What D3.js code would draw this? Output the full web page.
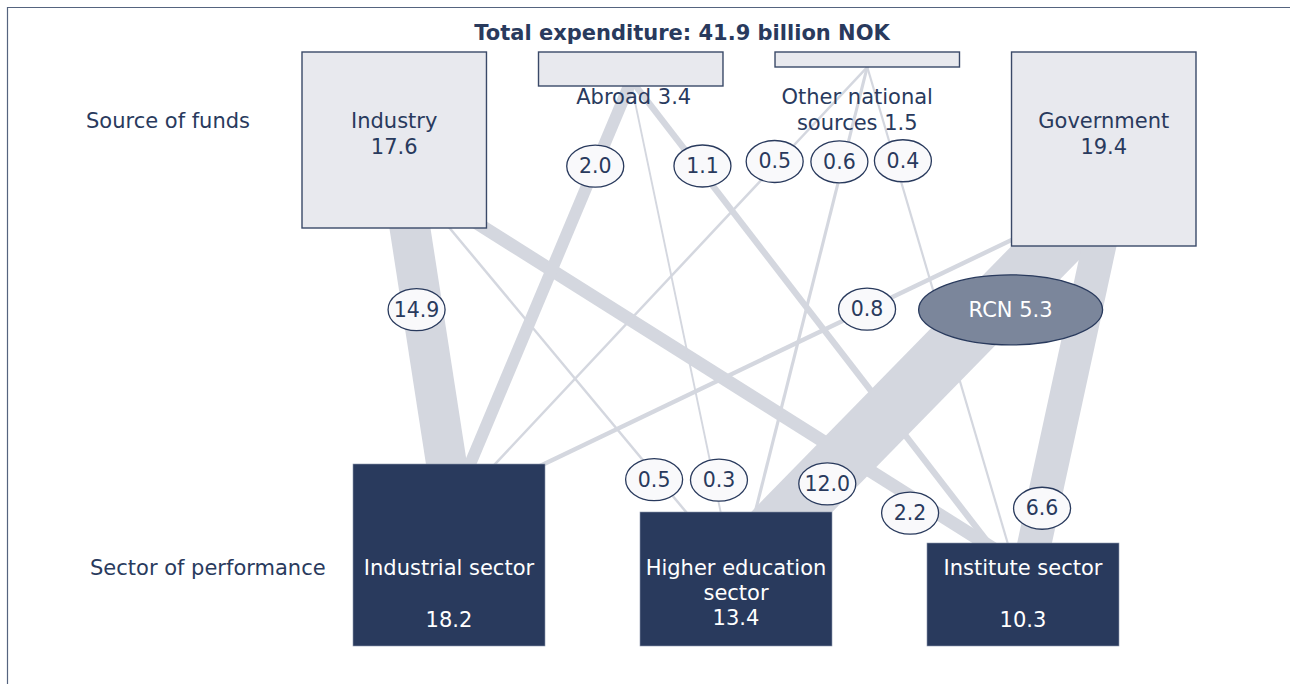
<!DOCTYPE html>
<html><head><meta charset="utf-8">
<script src="https://cdn.jsdelivr.net/npm/d3@7"></script>
<style>html,body{margin:0;padding:0;background:#fff;} svg{display:block;}</style>
</head><body><svg id="chart" width="1290" height="684"></svg>
<script>
// ---------------- data ----------------
const title = "Total expenditure: 41.9 billion NOK";
const rowLabels = ["Source of funds", "Sector of performance"];
const sources = ["Industry", "Abroad", "Other national sources", "Government"];
const sourceValues = [17.6, 3.4, 1.5, 19.4];
const targets = ["Industrial sector", "Higher education sector", "Institute sector"];
const targetValues = [18.2, 13.4, 10.3];
const flowSource = ["Industry", "Industry", "Industry", "Abroad", "Abroad", "Abroad",
  "Other national sources", "Other national sources", "Other national sources",
  "Government", "Government", "Government"];
const flowTarget = ["Industrial sector", "Higher education sector", "Institute sector",
  "Industrial sector", "Higher education sector", "Institute sector",
  "Industrial sector", "Higher education sector", "Institute sector",
  "Industrial sector", "Higher education sector", "Institute sector"];
const flowValues = [14.9, 0.5, 2.2, 2.0, 0.3, 1.1, 0.5, 0.6, 0.4, 0.8, 12.0, 6.6];
const rcnLabel = "RCN";
const rcnValue = 5.3;

// ---------------- layout / style ----------------
const NAVY = "#293a5d", FLOW = "#d4d7df", BOXFILL = "#e8e9ee";
const FONT = "DejaVu Sans, Verdana, sans-serif";
// anchor fractions across box widths, label position along the flow
const flowLayout = [
  {sf: 0.585, tf: 0.487, t: 0.346, dx: -6, dy: 0},
  {sf: 0.80, tf: 0.24, t: 0.886, dx: -5, dy: 0},
  {sf: 0.99, tf: 0.30, t: 0.851, dx: 0, dy: 17},
  {sf: 0.49, tf: 0.61, t: 0.212, dx: 0, dy: 0},
  {sf: 0.505, tf: 0.42, t: 0.925, dx: 5, dy: 0},
  {sf: 0.527, tf: 0.32, t: 0.175, dx: 5, dy: 0},
  {sf: 0.5, tf: 0.74, t: 0.238, dx: -4, dy: 0},
  {sf: 0.5, tf: 0.60, t: 0.213, dx: -4, dy: 0},
  {sf: 0.5, tf: 0.42, t: 0.197, dx: 8, dy: 0},
  {sf: 0.0, tf: 0.995, t: 0.309, dx: 0, dy: 0, sdy: -6},
  {sf: 0.22, tf: 0.79, t: 0.894, dx: 8, dy: 0},
  {sf: 0.475, tf: 0.56, t: 0.883, dx: 0, dy: 0}
];
const sourceLabelDx = [0, 3, -10, 0];

const svg = d3.select("#chart");
const fmt = d3.format(".1f");
const sx = d3.scaleBand().domain(sources).range([302, 1196]).paddingInner(0.22);
const tx = d3.scaleBand().domain(targets).range([353, 1119]).paddingInner(0.331);
const hScale = d3.scaleLinear().domain([0, 10]).range([0, 100]);
const wScale = d3.scaleLinear().domain([0, 0.5, 2, 6.6, 12, 15]).range([1, 2.5, 12, 34, 58, 40]);
const sourceTop = 52, targetBottom = 646;
const srcVal = new Map(sources.map((s, i) => [s, sourceValues[i]]));
const tgtVal = new Map(targets.map((s, i) => [s, targetValues[i]]));

// frame
svg.append("path").attr("d", "M7.5,684 V7.5 H1290")
  .attr("fill", "none").attr("stroke", "#55647f").attr("stroke-width", 1.2);

// title
svg.append("text").attr("x", 682).attr("y", 33).attr("text-anchor", "middle")
  .attr("dominant-baseline", "central").attr("font-family", FONT).attr("font-size", 21)
  .attr("font-weight", "bold").attr("fill", NAVY).text(title);

// row labels
svg.append("text").attr("x", 86).attr("y", 121).attr("dominant-baseline", "central")
  .attr("font-family", FONT).attr("font-size", 21).attr("fill", NAVY).text(rowLabels[0]);
svg.append("text").attr("x", 90).attr("y", 568).attr("dominant-baseline", "central")
  .attr("font-family", FONT).attr("font-size", 21).attr("fill", NAVY).text(rowLabels[1]);

// flow geometry
const flows = flowValues.map((v, i) => {
  const L = flowLayout[i];
  const s = flowSource[i], t = flowTarget[i];
  const sBottom = sourceTop + hScale(srcVal.get(s));
  const tTop = targetBottom - hScale(tgtVal.get(t));
  const x1 = sx(s) + L.sf * sx.bandwidth(), y1 = sBottom + (L.sdy || 0);
  const x2 = tx(t) + L.tf * tx.bandwidth(), y2 = tTop;
  const len = Math.hypot(x2 - x1, y2 - y1);
  const ux = (x2 - x1) / len, uy = (y2 - y1) / len;
  const extS = Math.min(30, hScale(srcVal.get(s)) / 2), extT = 30;
  return {v, i, x1, y1, x2, y2,
    ex1: x1 - ux * extS, ey1: y1 - uy * extS, ex2: x2 + ux * extT, ey2: y2 + uy * extT,
    lx: x1 + (x2 - x1) * L.t + L.dx, ly: y1 + (y2 - y1) * L.t + L.dy};
});

svg.append("g").selectAll("line").data(flows).join("line")
  .attr("x1", d => d.ex1).attr("y1", d => d.ey1).attr("x2", d => d.ex2).attr("y2", d => d.ey2)
  .attr("stroke", FLOW).attr("stroke-width", d => wScale(d.v)).attr("stroke-linecap", "butt");

// RCN node, placed on government -> higher education flow
const gh = flows[10];
const rcnX = gh.x1 + (gh.x2 - gh.x1) * 0.24 + 21, rcnY = gh.y1 + (gh.y2 - gh.y1) * 0.24;
svg.append("ellipse").attr("cx", rcnX).attr("cy", rcnY).attr("rx", 92).attr("ry", 35)
  .attr("fill", "#7b869b").attr("stroke", NAVY).attr("stroke-width", 1.3);
svg.append("text").attr("x", rcnX).attr("y", rcnY).attr("text-anchor", "middle")
  .attr("dominant-baseline", "central").attr("font-family", FONT).attr("font-size", 21)
  .attr("fill", "#ffffff").text(rcnLabel + " " + fmt(rcnValue));

// source boxes
const sg = svg.append("g");
sources.forEach((s, i) => {
  const v = sourceValues[i];
  const x = sx(s), bw = sx.bandwidth(), hh = hScale(v);
  sg.append("rect").attr("x", x).attr("y", sourceTop).attr("width", bw).attr("height", hh)
    .attr("fill", BOXFILL).attr("stroke", "#3a4968").attr("stroke-width", 1.4);
  const cx = x + bw / 2 + sourceLabelDx[i];
  let lines, y0;
  if (hh > 100) { lines = [s, fmt(v)]; y0 = sourceTop + 69; }
  else {
    const full = s + " " + fmt(v);
    if (full.length <= 12) lines = [full];
    else { const k = s.lastIndexOf(" "); lines = [s.slice(0, k), s.slice(k + 1) + " " + fmt(v)]; }
    y0 = 97;
  }
  lines.forEach((ln, j) => sg.append("text").attr("x", cx).attr("y", y0 + j * 26)
    .attr("text-anchor", "middle").attr("dominant-baseline", "central")
    .attr("font-family", FONT).attr("font-size", 21).attr("fill", NAVY).text(ln));
});

// target boxes
const tg = svg.append("g");
targets.forEach((t, i) => {
  const v = targetValues[i];
  const x = tx(t), bw = tx.bandwidth(), hh = hScale(v);
  tg.append("rect").attr("x", x).attr("y", targetBottom - hh).attr("width", bw).attr("height", hh)
    .attr("fill", NAVY).attr("stroke", "#8c98ad").attr("stroke-width", 0.6);
  const cx = x + bw / 2;
  let lines;
  if (t.length > 17) { const k = t.lastIndexOf(" "); lines = [[t.slice(0, k), 568], [t.slice(k + 1), 593], [fmt(v), 618]]; }
  else lines = [[t, 568], [fmt(v), 620]];
  lines.forEach(([ln, y]) => tg.append("text").attr("x", cx).attr("y", y)
    .attr("text-anchor", "middle").attr("dominant-baseline", "central")
    .attr("font-family", FONT).attr("font-size", 21).attr("fill", "#ffffff").text(ln));
});

// flow value labels
const lg = svg.append("g").selectAll("g").data(flows).join("g")
  .attr("transform", d => `translate(${d.lx},${d.ly})`);
lg.append("ellipse").attr("rx", 28.5).attr("ry", 21).attr("fill", "#f9f9fb")
  .attr("stroke", NAVY).attr("stroke-width", 1.3);
lg.append("text").attr("text-anchor", "middle").attr("dominant-baseline", "central")
  .attr("font-family", FONT).attr("font-size", 20.5).attr("fill", NAVY).text(d => fmt(d.v));
</script></body></html>
